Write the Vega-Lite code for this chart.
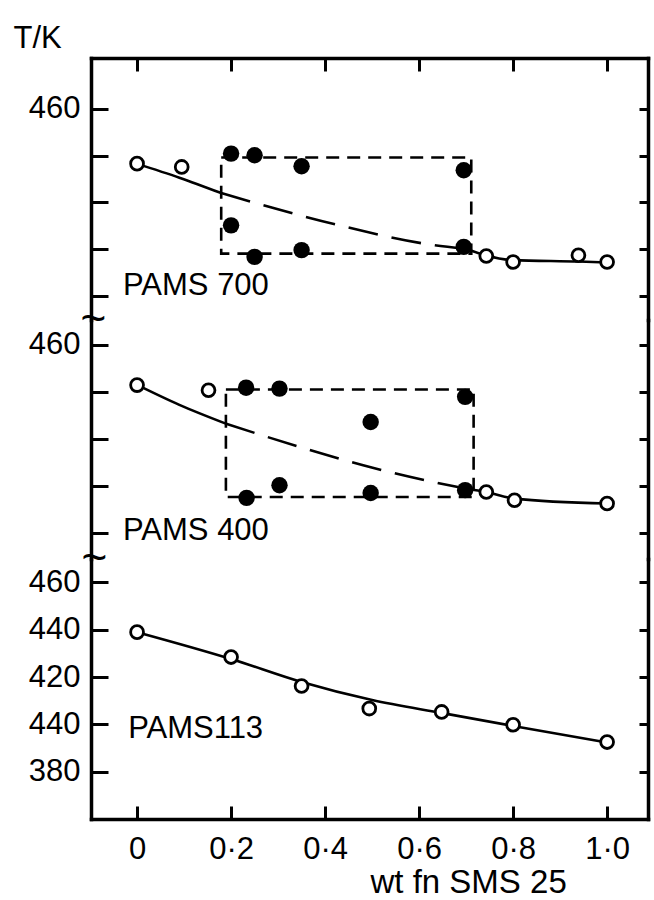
{
  "$schema": "https://vega.github.io/schema/vega-lite/v6.json",
  "background": "white",
  "padding": {"left": 13, "top": 22, "right": 4, "bottom": 0},
  "spacing": 0,
  "bounds": "flush",
  "datasets": {
    "points": [
      {"panel": "PAMS 700", "kind": "open", "x": 0.0, "T": 436.6},
      {"panel": "PAMS 700", "kind": "open", "x": 0.095, "T": 435.2},
      {"panel": "PAMS 700", "kind": "open", "x": 0.743, "T": 397.1},
      {"panel": "PAMS 700", "kind": "open", "x": 0.8, "T": 394.5},
      {"panel": "PAMS 700", "kind": "open", "x": 0.939, "T": 397.4},
      {"panel": "PAMS 700", "kind": "open", "x": 1.0, "T": 394.5},
      {"panel": "PAMS 700", "kind": "filled", "x": 0.2, "T": 440.9},
      {"panel": "PAMS 700", "kind": "filled", "x": 0.25, "T": 440.2},
      {"panel": "PAMS 700", "kind": "filled", "x": 0.35, "T": 435.5},
      {"panel": "PAMS 700", "kind": "filled", "x": 0.695, "T": 433.8},
      {"panel": "PAMS 700", "kind": "filled", "x": 0.2, "T": 410.2},
      {"panel": "PAMS 700", "kind": "filled", "x": 0.25, "T": 396.7},
      {"panel": "PAMS 700", "kind": "filled", "x": 0.35, "T": 399.6},
      {"panel": "PAMS 700", "kind": "filled", "x": 0.695, "T": 401.0},
      {"panel": "PAMS 400", "kind": "open", "x": 0.0, "T": 442.9},
      {"panel": "PAMS 400", "kind": "open", "x": 0.152, "T": 440.7},
      {"panel": "PAMS 400", "kind": "open", "x": 0.743, "T": 397.4},
      {"panel": "PAMS 400", "kind": "open", "x": 0.803, "T": 393.9},
      {"panel": "PAMS 400", "kind": "open", "x": 1.0, "T": 392.5},
      {"panel": "PAMS 400", "kind": "filled", "x": 0.232, "T": 441.8},
      {"panel": "PAMS 400", "kind": "filled", "x": 0.303, "T": 441.4},
      {"panel": "PAMS 400", "kind": "filled", "x": 0.698, "T": 437.9},
      {"panel": "PAMS 400", "kind": "filled", "x": 0.497, "T": 427.2},
      {"panel": "PAMS 400", "kind": "filled", "x": 0.303, "T": 400.3},
      {"panel": "PAMS 400", "kind": "filled", "x": 0.233, "T": 394.9},
      {"panel": "PAMS 400", "kind": "filled", "x": 0.497, "T": 397.0},
      {"panel": "PAMS 400", "kind": "filled", "x": 0.698, "T": 398.2},
      {"panel": "PAMS113", "kind": "open", "x": 0.0, "T": 438.9},
      {"panel": "PAMS113", "kind": "open", "x": 0.2, "T": 428.4},
      {"panel": "PAMS113", "kind": "open", "x": 0.35, "T": 416.2},
      {"panel": "PAMS113", "kind": "open", "x": 0.494, "T": 406.7},
      {"panel": "PAMS113", "kind": "open", "x": 0.648, "T": 405.3},
      {"panel": "PAMS113", "kind": "open", "x": 0.8, "T": 399.9},
      {"panel": "PAMS113", "kind": "open", "x": 1.0, "T": 392.6}
    ],
    "curves": [
      {"panel": "PAMS 700", "curve": "fitL", "style": "solid", "i": 1, "x": 0.0, "T": 436.5},
      {"panel": "PAMS 700", "curve": "fitL", "style": "solid", "i": 2, "x": 0.09, "T": 430.6},
      {"panel": "PAMS 700", "curve": "fitL", "style": "solid", "i": 3, "x": 0.179, "T": 424.0},
      {"panel": "PAMS 700", "curve": "fitR", "style": "solid", "i": 1, "x": 0.7, "T": 400.2},
      {"panel": "PAMS 700", "curve": "fitR", "style": "solid", "i": 2, "x": 0.743, "T": 397.3},
      {"panel": "PAMS 700", "curve": "fitR", "style": "solid", "i": 3, "x": 0.8, "T": 395.3},
      {"panel": "PAMS 700", "curve": "fitR", "style": "solid", "i": 4, "x": 0.94, "T": 394.7},
      {"panel": "PAMS 700", "curve": "fitR", "style": "solid", "i": 5, "x": 1.0, "T": 394.3},
      {"panel": "PAMS 700", "curve": "mid", "style": "dash", "i": 1, "x": 0.179, "T": 424.0},
      {"panel": "PAMS 700", "curve": "mid", "style": "dash", "i": 2, "x": 0.426, "T": 410.4},
      {"panel": "PAMS 700", "curve": "mid", "style": "dash", "i": 3, "x": 0.63, "T": 401.8},
      {"panel": "PAMS 700", "curve": "mid", "style": "dash", "i": 4, "x": 0.7, "T": 400.2},
      {"panel": "PAMS 400", "curve": "fitL", "style": "solid", "i": 1, "x": 0.0, "T": 443.0},
      {"panel": "PAMS 400", "curve": "fitL", "style": "solid", "i": 2, "x": 0.09, "T": 434.5},
      {"panel": "PAMS 400", "curve": "fitL", "style": "solid", "i": 3, "x": 0.189, "T": 426.5},
      {"panel": "PAMS 400", "curve": "fitR", "style": "solid", "i": 1, "x": 0.7, "T": 398.8},
      {"panel": "PAMS 400", "curve": "fitR", "style": "solid", "i": 2, "x": 0.743, "T": 397.4},
      {"panel": "PAMS 400", "curve": "fitR", "style": "solid", "i": 3, "x": 0.803, "T": 394.6},
      {"panel": "PAMS 400", "curve": "fitR", "style": "solid", "i": 4, "x": 1.0, "T": 392.5},
      {"panel": "PAMS 400", "curve": "mid", "style": "dash", "i": 1, "x": 0.189, "T": 426.5},
      {"panel": "PAMS 400", "curve": "mid", "style": "dash", "i": 2, "x": 0.357, "T": 415.9},
      {"panel": "PAMS 400", "curve": "mid", "style": "dash", "i": 3, "x": 0.481, "T": 408.8},
      {"panel": "PAMS 400", "curve": "mid", "style": "dash", "i": 4, "x": 0.613, "T": 402.4},
      {"panel": "PAMS 400", "curve": "mid", "style": "dash", "i": 5, "x": 0.7, "T": 398.8},
      {"panel": "PAMS113", "curve": "fit", "style": "solid", "i": 1, "x": 0.0, "T": 438.9},
      {"panel": "PAMS113", "curve": "fit", "style": "solid", "i": 2, "x": 0.2, "T": 427.6},
      {"panel": "PAMS113", "curve": "fit", "style": "solid", "i": 3, "x": 0.35, "T": 417.9},
      {"panel": "PAMS113", "curve": "fit", "style": "solid", "i": 4, "x": 0.5, "T": 410.3},
      {"panel": "PAMS113", "curve": "fit", "style": "solid", "i": 5, "x": 0.65, "T": 404.8},
      {"panel": "PAMS113", "curve": "fit", "style": "solid", "i": 6, "x": 0.8, "T": 399.4},
      {"panel": "PAMS113", "curve": "fit", "style": "solid", "i": 7, "x": 1.0, "T": 392.4}
    ],
    "rects": [
      {"panel": "PAMS 700", "i": 1, "x": 0.179, "T": 439.2},
      {"panel": "PAMS 700", "i": 2, "x": 0.711, "T": 439.2},
      {"panel": "PAMS 700", "i": 3, "x": 0.711, "T": 398.1},
      {"panel": "PAMS 700", "i": 4, "x": 0.179, "T": 398.1},
      {"panel": "PAMS 700", "i": 5, "x": 0.179, "T": 439.2},
      {"panel": "PAMS 400", "i": 1, "x": 0.189, "T": 441.0},
      {"panel": "PAMS 400", "i": 2, "x": 0.716, "T": 441.0},
      {"panel": "PAMS 400", "i": 3, "x": 0.716, "T": 395.3},
      {"panel": "PAMS 400", "i": 4, "x": 0.189, "T": 395.3},
      {"panel": "PAMS 400", "i": 5, "x": 0.189, "T": 441.0}
    ],
    "texts": [
      {"panel": "PAMS 700", "kind": "name", "s": "PAMS 700", "x": -0.03, "T": 380.4},
      {"panel": "PAMS 400", "kind": "name", "s": "PAMS 400", "x": -0.03, "T": 377.0},
      {"panel": "PAMS113", "kind": "name", "s": "PAMS113", "x": -0.019, "T": 394.3},
      {"panel": "PAMS 400", "kind": "break", "s": "~", "x": -0.093, "T": 470.6},
      {"panel": "PAMS113", "kind": "break", "s": "~", "x": -0.091, "T": 469.7}
    ]
  },
  "vconcat": [
    {
      "width": 557,
      "height": 262,
      "layer": [
        {
          "data": {"name": "rects"},
          "transform": [{"filter": "datum.panel == 'PAMS 700'"}],
          "mark": {"type": "line", "color": "black", "strokeWidth": 2.6, "strokeDash": [13, 8]},
          "encoding": {
            "x": {"field": "x", "type": "quantitative", "scale": {"domain": [-0.098, 1.087], "nice": false, "zero": false},
              "axis": {"orient": "top", "values": [0, 0.2, 0.4, 0.6, 0.8, 1], "labels": false, "tickSize": -13, "title": null}},
            "y": {"field": "T", "type": "quantitative", "scale": {"domain": [369.7, 481.8], "nice": false, "zero": false},
              "axis": {"orient": "left", "values": [460, 440, 420, 400, 380], "tickSize": -17, "labelPadding": 28,
                "labelExpr": "datum.value == 460 ? '460' : ''",
                "title": "T/K", "titleAngle": 0, "titleAlign": "left", "titleBaseline": "top", "titleX": -78, "titleY": -35,
                "titleFontSize": 31, "titleFont": "Liberation Sans", "titleFontWeight": "normal", "titleColor": "black"}},
            "order": {"field": "i"}
          }
        },
        {
          "data": {"name": "curves"},
          "transform": [{"filter": "datum.panel == 'PAMS 700' && datum.style == 'dash'"}],
          "mark": {"type": "line", "color": "black", "strokeWidth": 2.6, "strokeDash": [30, 14], "interpolate": "monotone"},
          "encoding": {
            "x": {"field": "x", "type": "quantitative", "axis": null},
            "y": {"field": "T", "type": "quantitative",
              "axis": {"orient": "right", "values": [460, 440, 420, 400, 380], "tickSize": -9, "labels": false, "title": null}},
            "order": {"field": "i"}
          }
        },
        {
          "data": {"name": "curves"},
          "transform": [{"filter": "datum.panel == 'PAMS 700' && datum.style == 'solid'"}],
          "mark": {"type": "line", "color": "black", "strokeWidth": 2.6, "interpolate": "monotone"},
          "encoding": {
            "x": {"field": "x", "type": "quantitative", "axis": null},
            "y": {"field": "T", "type": "quantitative", "axis": null},
            "detail": {"field": "curve"},
            "order": {"field": "i"}
          }
        },
        {
          "data": {"name": "points"},
          "transform": [{"filter": "datum.panel == 'PAMS 700' && datum.kind == 'filled'"}],
          "mark": {"type": "point", "shape": "circle", "filled": true, "fill": "black", "strokeWidth": 0, "size": 270, "opacity": 1},
          "encoding": {
            "x": {"field": "x", "type": "quantitative", "axis": null},
            "y": {"field": "T", "type": "quantitative", "axis": null}
          }
        },
        {
          "data": {"name": "points"},
          "transform": [{"filter": "datum.panel == 'PAMS 700' && datum.kind == 'open'"}],
          "mark": {"type": "point", "shape": "circle", "filled": true, "fill": "white", "stroke": "black", "strokeWidth": 2.8, "size": 165, "opacity": 1},
          "encoding": {
            "x": {"field": "x", "type": "quantitative", "axis": null},
            "y": {"field": "T", "type": "quantitative", "axis": null}
          }
        },
        {
          "data": {"name": "texts"},
          "transform": [{"filter": "datum.panel == 'PAMS 700'"}],
          "mark": {"type": "text", "align": "left", "baseline": "alphabetic", "font": "Liberation Sans", "fontSize": 31, "color": "black"},
          "encoding": {
            "x": {"field": "x", "type": "quantitative", "axis": null},
            "y": {"field": "T", "type": "quantitative", "axis": null},
            "text": {"field": "s"}
          }
        }
      ],
      "resolve": {"axis": {"x": "independent", "y": "independent"}}
    },
    {
      "width": 557,
      "height": 239,
      "layer": [
        {
          "data": {"name": "rects"},
          "transform": [{"filter": "datum.panel == 'PAMS 400'"}],
          "mark": {"type": "line", "color": "black", "strokeWidth": 2.6, "strokeDash": [13, 8]},
          "encoding": {
            "x": {"field": "x", "type": "quantitative", "scale": {"domain": [-0.098, 1.087], "nice": false, "zero": false}, "axis": null},
            "y": {"field": "T", "type": "quantitative", "scale": {"domain": [368.9, 470.6], "nice": false, "zero": false},
              "axis": {"orient": "left", "values": [460, 440, 420, 400, 380], "tickSize": -17, "labelPadding": 28,
                "labelExpr": "datum.value == 460 ? '460' : ''", "title": null}},
            "order": {"field": "i"}
          }
        },
        {
          "data": {"name": "curves"},
          "transform": [{"filter": "datum.panel == 'PAMS 400' && datum.style == 'dash'"}],
          "mark": {"type": "line", "color": "black", "strokeWidth": 2.6, "strokeDash": [30, 14], "interpolate": "monotone"},
          "encoding": {
            "x": {"field": "x", "type": "quantitative", "axis": null},
            "y": {"field": "T", "type": "quantitative",
              "axis": {"orient": "right", "values": [460, 440, 420, 400, 380], "tickSize": -9, "labels": false, "title": null}},
            "order": {"field": "i"}
          }
        },
        {
          "data": {"name": "curves"},
          "transform": [{"filter": "datum.panel == 'PAMS 400' && datum.style == 'solid'"}],
          "mark": {"type": "line", "color": "black", "strokeWidth": 2.6, "interpolate": "monotone"},
          "encoding": {
            "x": {"field": "x", "type": "quantitative", "axis": null},
            "y": {"field": "T", "type": "quantitative", "axis": null},
            "detail": {"field": "curve"},
            "order": {"field": "i"}
          }
        },
        {
          "data": {"name": "points"},
          "transform": [{"filter": "datum.panel == 'PAMS 400' && datum.kind == 'filled'"}],
          "mark": {"type": "point", "shape": "circle", "filled": true, "fill": "black", "strokeWidth": 0, "size": 270, "opacity": 1},
          "encoding": {
            "x": {"field": "x", "type": "quantitative", "axis": null},
            "y": {"field": "T", "type": "quantitative", "axis": null}
          }
        },
        {
          "data": {"name": "points"},
          "transform": [{"filter": "datum.panel == 'PAMS 400' && datum.kind == 'open'"}],
          "mark": {"type": "point", "shape": "circle", "filled": true, "fill": "white", "stroke": "black", "strokeWidth": 2.8, "size": 165, "opacity": 1},
          "encoding": {
            "x": {"field": "x", "type": "quantitative", "axis": null},
            "y": {"field": "T", "type": "quantitative", "axis": null}
          }
        },
        {
          "data": {"name": "texts"},
          "transform": [{"filter": "datum.panel == 'PAMS 400' && datum.kind == 'name'"}],
          "mark": {"type": "text", "align": "left", "baseline": "alphabetic", "font": "Liberation Sans", "fontSize": 31, "color": "black"},
          "encoding": {
            "x": {"field": "x", "type": "quantitative", "axis": null},
            "y": {"field": "T", "type": "quantitative", "axis": null},
            "text": {"field": "s"}
          }
        },
        {
          "data": {"name": "texts"},
          "transform": [{"filter": "datum.panel == 'PAMS 400' && datum.kind == 'break'"}],
          "mark": {"type": "text", "align": "center", "baseline": "middle", "font": "Liberation Sans", "fontSize": 44, "color": "black"},
          "encoding": {
            "x": {"field": "x", "type": "quantitative", "axis": null},
            "y": {"field": "T", "type": "quantitative", "axis": null},
            "text": {"field": "s"}
          }
        }
      ],
      "resolve": {"axis": {"x": "independent", "y": "independent"}}
    },
    {
      "width": 557,
      "height": 260,
      "layer": [
        {
          "data": {"name": "curves"},
          "transform": [{"filter": "datum.panel == 'PAMS113'"}],
          "mark": {"type": "line", "color": "black", "strokeWidth": 2.6, "interpolate": "monotone"},
          "encoding": {
            "x": {"field": "x", "type": "quantitative", "scale": {"domain": [-0.098, 1.087], "nice": false, "zero": false},
              "axis": {"orient": "bottom", "values": [0, 0.2, 0.4, 0.6, 0.8, 1], "tickSize": -13, "labelPadding": 28,
                "labelExpr": "datum.value == 0 ? '0' : replace(format(datum.value, '.1f'), '.', '·')",
                "title": "wt fn SMS 25", "titleAlign": "left", "titleBaseline": "alphabetic", "titleX": 279, "titleY": 73,
                "titleFontSize": 33, "titleFont": "Liberation Sans", "titleFontWeight": "normal", "titleColor": "black"}},
            "y": {"field": "T", "type": "quantitative", "scale": {"domain": [360.2, 469.7], "nice": false, "zero": false},
              "axis": {"orient": "left", "values": [460, 440, 420, 400, 380], "tickSize": -17, "labelPadding": 28,
                "labelExpr": "datum.value == 400 ? '440' : format(datum.value, 'd')", "title": null}},
            "order": {"field": "i"}
          }
        },
        {
          "data": {"name": "points"},
          "transform": [{"filter": "datum.panel == 'PAMS113'"}],
          "mark": {"type": "point", "shape": "circle", "filled": true, "fill": "white", "stroke": "black", "strokeWidth": 2.8, "size": 165, "opacity": 1},
          "encoding": {
            "x": {"field": "x", "type": "quantitative", "axis": null},
            "y": {"field": "T", "type": "quantitative",
              "axis": {"orient": "right", "values": [460, 440, 420, 400, 380], "tickSize": -9, "labels": false, "title": null}}
          }
        },
        {
          "data": {"name": "texts"},
          "transform": [{"filter": "datum.panel == 'PAMS113' && datum.kind == 'name'"}],
          "mark": {"type": "text", "align": "left", "baseline": "alphabetic", "font": "Liberation Sans", "fontSize": 31, "color": "black"},
          "encoding": {
            "x": {"field": "x", "type": "quantitative", "axis": null},
            "y": {"field": "T", "type": "quantitative", "axis": null},
            "text": {"field": "s"}
          }
        },
        {
          "data": {"name": "texts"},
          "transform": [{"filter": "datum.panel == 'PAMS113' && datum.kind == 'break'"}],
          "mark": {"type": "text", "align": "center", "baseline": "middle", "font": "Liberation Sans", "fontSize": 44, "color": "black"},
          "encoding": {
            "x": {"field": "x", "type": "quantitative", "axis": null},
            "y": {"field": "T", "type": "quantitative", "axis": null},
            "text": {"field": "s"}
          }
        }
      ],
      "resolve": {"axis": {"x": "independent", "y": "independent"}}
    }
  ],
  "config": {
    "view": {"stroke": null},
    "axis": {
      "grid": false,
      "domainColor": "black",
      "domainWidth": 3.5,
      "domainCap": "square",
      "tickColor": "black",
      "tickWidth": 3,
      "labelColor": "black",
      "labelFont": "Liberation Sans",
      "labelFontSize": 31,
      "labelOverlap": false,
      "labelBound": false,
      "labelFlush": false
    }
  }
}
